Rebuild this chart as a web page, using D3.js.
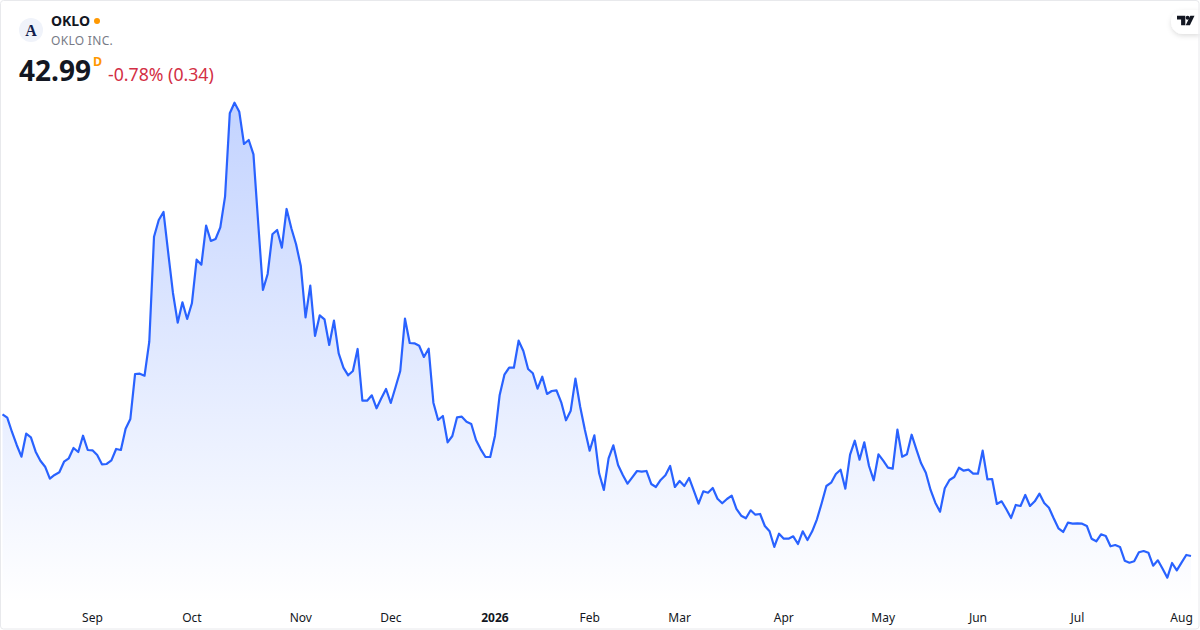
<!DOCTYPE html>
<html>
<head>
<meta charset="utf-8">
<title>OKLO</title>
<script src="https://cdn.jsdelivr.net/npm/d3@7"></script>
<style>
  html, body { margin: 0; padding: 0; background: #fff; }
  svg { display: block; font-family: "Noto Sans", "Open Sans", sans-serif; }
</style>
</head>
<body>
<div id="container"></div>
<script>
// daily closes (only the last one is printed on it)
var closes = [
  78.42,77.57,74,70.75,67.82,73.57,72.67,69.07,66.82,65.32,62.32,63.25,63.92,66.57,67.42,70,69,73.07,69.5,69.42,
  68.25,65.92,66,66.92,69.75,69.5,74.82,77.25,88.5,88.57,88.07,96.57,122.82,127,129,118.75,108.75,101.32,106.42,102.25,
  106.17,117.07,115.82,125.57,121.75,122.25,125.17,132.82,153.67,156.32,154.07,146,147,143.42,126.25,109.5,113.5,123.42,124.5,120.07,
  129.75,124.92,120.92,115.5,102.67,110.57,98,103.17,102.17,95.75,101.82,93.67,90.07,88.17,89.25,94.75,81.82,81.82,83.17,79.92,
  82.42,84.75,81.25,85.17,89.25,102.32,96.25,96.17,95.57,92.75,94.82,81.32,77,78,71.42,73,77.67,77.82,76.57,76,
  72,69.67,67.75,67.75,73,83.25,88.32,90.07,90.07,96.82,94.25,89.75,88.67,84.82,87.82,83.5,84.25,84.42,81.42,76.92,
  79.32,87.32,80.32,74.5,69.32,73.17,63.67,59.5,67.42,70.67,65.75,63.25,61.07,62.67,64.25,64.07,64.25,61,60.25,62,
  63.17,65.5,60.25,61.75,60.5,62.5,59.32,56.07,59.17,58.82,60,57.32,56.17,57.25,58.07,54.75,53.07,52.42,54.42,53.32,
  53.5,50.5,49.17,45.25,48.57,47.32,47.32,47.92,46,49.17,47,49.17,52.17,56.17,60.5,61.32,63.5,64.57,59.82,68.32,
  71.82,67.07,71.42,65.5,61.92,68.42,66.82,65.07,64.82,74.57,67.82,68.42,73.32,69.67,66.17,63.82,59.5,56.32,54.07,59.92,
  62,62.75,65.07,64.32,64.57,63.57,63.57,69.32,62.17,62.25,56,56.67,54.67,52.5,55.75,55.5,58.25,55.5,56.67,58.57,
  56.25,55.07,52.42,49.92,49,51.32,51.07,51.17,51.07,50.5,47.32,46.67,48.42,48,45.42,45.75,45.25,41.82,41.32,41.67,
  43.92,44.25,43.82,40.57,41.92,39.82,37.57,41.25,39.42,41.32,43.25,42.99
];

// trading day index where each month starts
var tickDays = [19, 40, 63, 82, 104, 124, 143, 165, 186, 206, 227, 249];
var tickNames = ["Sep", "Oct", "Nov", "Dec", "2026", "Feb", "Mar", "Apr", "May", "Jun", "Jul", "Aug"];

var symbol = "OKLO";
var company = "OKLO INC.";
var lastPrice = "42.99";
var interval = "D";
var change = "-0.78% (0.34)";

var width = 1200, height = 630;

var svg = d3.select("#container").append("svg")
  .attr("width", width)
  .attr("height", height);

var x = d3.scaleLinear().domain([0, closes.length - 1]).range([2.5, 1191]);
var y = d3.scaleLinear().domain(d3.extent(closes)).range([577.7, 102.7]);

var defs = svg.append("defs");
var grad = defs.append("linearGradient")
  .attr("id", "fade")
  .attr("gradientUnits", "userSpaceOnUse")
  .attr("x1", 0).attr("x2", 0).attr("y1", 102).attr("y2", 604);
grad.append("stop").attr("offset", 0).attr("stop-color", "#2962ff").attr("stop-opacity", 0.28);
grad.append("stop").attr("offset", 1).attr("stop-color", "#2962ff").attr("stop-opacity", 0);

var shadow = defs.append("filter").attr("id", "soft")
  .attr("x", "-50%").attr("y", "-50%").attr("width", "200%").attr("height", "200%");
shadow.append("feDropShadow")
  .attr("dx", 0).attr("dy", 2).attr("stdDeviation", 2.5)
  .attr("flood-color", "#000").attr("flood-opacity", 0.13);

var area = d3.area()
  .x(function (d, i) { return x(i); })
  .y0(604)
  .y1(function (d) { return y(d); });

var line = d3.line()
  .x(function (d, i) { return x(i); })
  .y(function (d) { return y(d); });

svg.append("path").datum(closes).attr("d", area).attr("fill", "url(#fade)");
svg.append("path").datum(closes).attr("d", line)
  .attr("fill", "none")
  .attr("stroke", "#2962ff")
  .attr("stroke-width", 2.2)
  .attr("stroke-linejoin", "round");

// month labels
var axis = svg.append("g")
  .attr("transform", "translate(0,613)")
  .call(d3.axisBottom(x)
    .tickValues(tickDays)
    .tickSize(0)
    .tickPadding(0)
    .tickFormat(function (d, i) { return tickNames[i]; }));
axis.select(".domain").remove();
axis.selectAll("text")
  .attr("dy", "0.71em")
  .attr("dx", -0.5)
  .attr("fill", "#131722")
  .attr("font-size", 12)
  .attr("font-family", "\"Noto Sans\", sans-serif")
  .attr("font-weight", function (d, i) { return tickNames[i] === "2026" ? 700 : 400; });

// header
svg.append("circle").attr("cx", 31).attr("cy", 30).attr("r", 12).attr("fill", "#f0f3fa");
svg.append("text").attr("x", 31).attr("y", 36).attr("text-anchor", "middle")
  .attr("font-family", "\"Liberation Serif\", serif")
  .attr("font-weight", 700).attr("font-size", 16).attr("fill", "#131e4d").text("A");

svg.append("text").attr("x", 51).attr("y", 26)
  .attr("font-weight", 700).attr("font-size", 14).attr("fill", "#131722").text(symbol);
svg.append("circle").attr("cx", 97).attr("cy", 21).attr("r", 3).attr("fill", "#ff9800");
svg.append("text").attr("x", 51).attr("y", 45)
  .attr("font-size", 12).attr("letter-spacing", 0.3).attr("fill", "#787b86").text(company);

svg.append("text").attr("x", 19).attr("y", 81)
  .attr("font-weight", 700).attr("font-size", 28).attr("fill", "#131722").text(lastPrice);
svg.append("text").attr("x", 93).attr("y", 66)
  .attr("font-weight", 700).attr("font-size", 12.5).attr("fill", "#ff9800").text(interval);
svg.append("text").attr("x", 108).attr("y", 81)
  .attr("font-size", 17.7).attr("fill", "#d32f45").text(change);

// TV badge in the corner
svg.append("path")
  .attr("d", "M1200 10H1183a12 12 0 0 0 -12 12v0a12 12 0 0 0 12 12H1200Z")
  .attr("fill", "#fff")
  .attr("filter", "url(#soft)");
svg.append("path")
  .attr("d", "M1177 15.8h8.3v9.4h-4.2v-5.6h-4.1Z M1194.5 15.8l-4.6 9.4h-4.2l4.6-9.4Z")
  .attr("fill", "#131722");
svg.append("circle").attr("cx", 1187.6).attr("cy", 17.8).attr("r", 2).attr("fill", "#131722");

// frame
svg.append("rect")
  .attr("x", 0.5).attr("y", 0.5).attr("width", 1198.5).attr("height", 628.5).attr("rx", 3)
  .attr("fill", "none").attr("stroke", "#e8e9ec");
</script>
</body>
</html>
